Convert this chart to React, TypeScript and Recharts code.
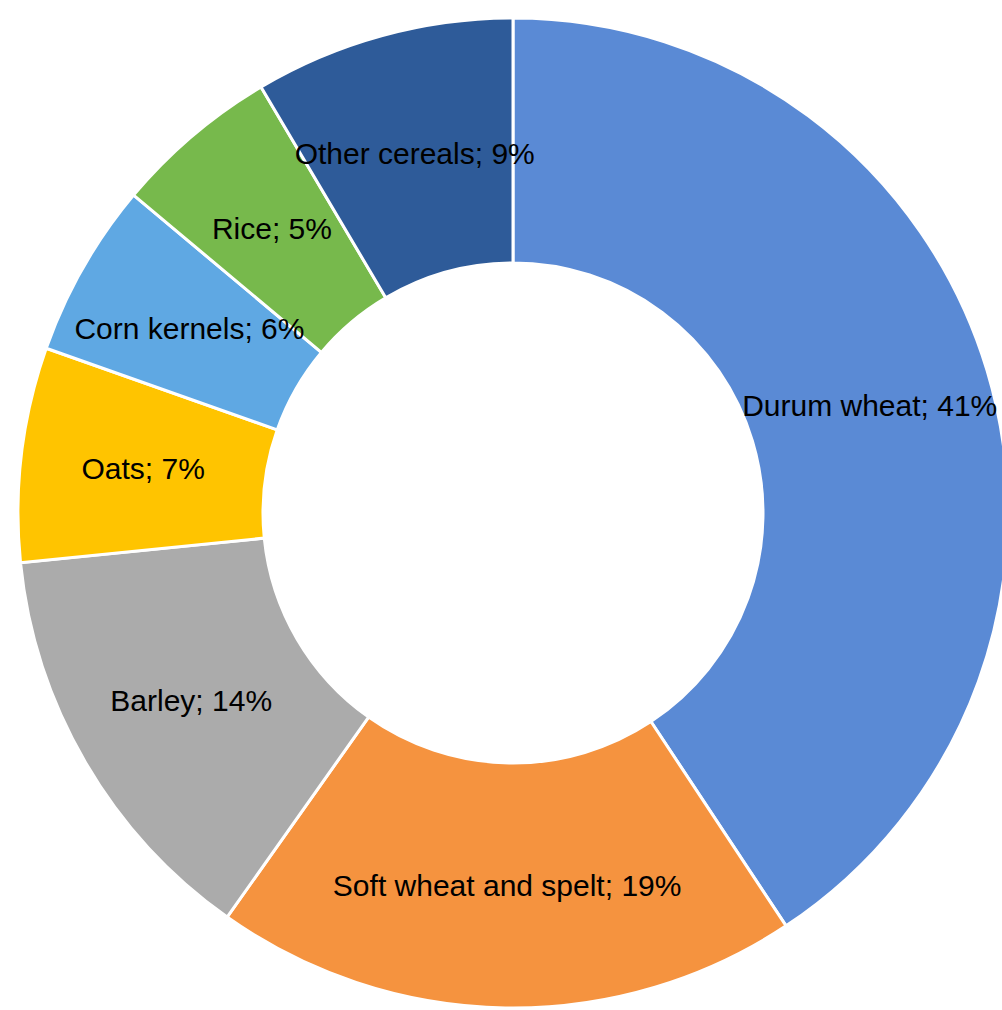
import { PieChart, Pie, Cell } from 'recharts';

// cereal shares (percent), clockwise from 12 o'clock
const categories = [
  'Durum wheat',
  'Soft wheat and spelt',
  'Barley',
  'Oats',
  'Corn kernels',
  'Rice',
  'Other cereals',
];
const shares = [40.7, 19.1, 13.6, 7.0, 5.7, 5.4, 8.5];
const shareLabels = [41, 19, 14, 7, 6, 5, 9];
const colors = ['#5A8AD5', '#F5933F', '#ABABAB', '#FFC400', '#5FA8E3', '#77B94C', '#2E5B99'];

const data = categories.map((name, i) => ({ name, value: shares[i], pct: shareLabels[i] }));

const RAD = Math.PI / 180;

// label centred in the middle of the ring
function renderLabel(props: any) {
  const { cx, cy, midAngle, innerRadius, outerRadius, index } = props;
  const r = (innerRadius + outerRadius) / 2;
  const x = cx + r * Math.cos(-midAngle * RAD);
  const y = cy + r * Math.sin(-midAngle * RAD);
  return (
    <text
      x={x}
      y={y}
      fill="#000"
      textAnchor="middle"
      dominantBaseline="central"
      fontFamily="'Liberation Sans', Arial, sans-serif"
      fontSize={30}
    >
      {`${data[index].name}; ${data[index].pct}%`}
    </text>
  );
}

export default function App() {
  return (
    <div style={{ position: 'absolute', left: 0, top: 0, width: 1002, height: 1010, background: '#fff' }}>
      <PieChart width={1002} height={1010}>
        <Pie
          data={data}
          dataKey="value"
          nameKey="name"
          cx={508}
          cy={508}
          innerRadius={250}
          outerRadius={495}
          startAngle={90}
          endAngle={-270}
          stroke="#fff"
          strokeWidth={3}
          label={renderLabel}
          labelLine={false}
          isAnimationActive={false}
        >
          {data.map((d, i) => (
            <Cell key={d.name} fill={colors[i]} />
          ))}
        </Pie>
      </PieChart>
    </div>
  );
}
